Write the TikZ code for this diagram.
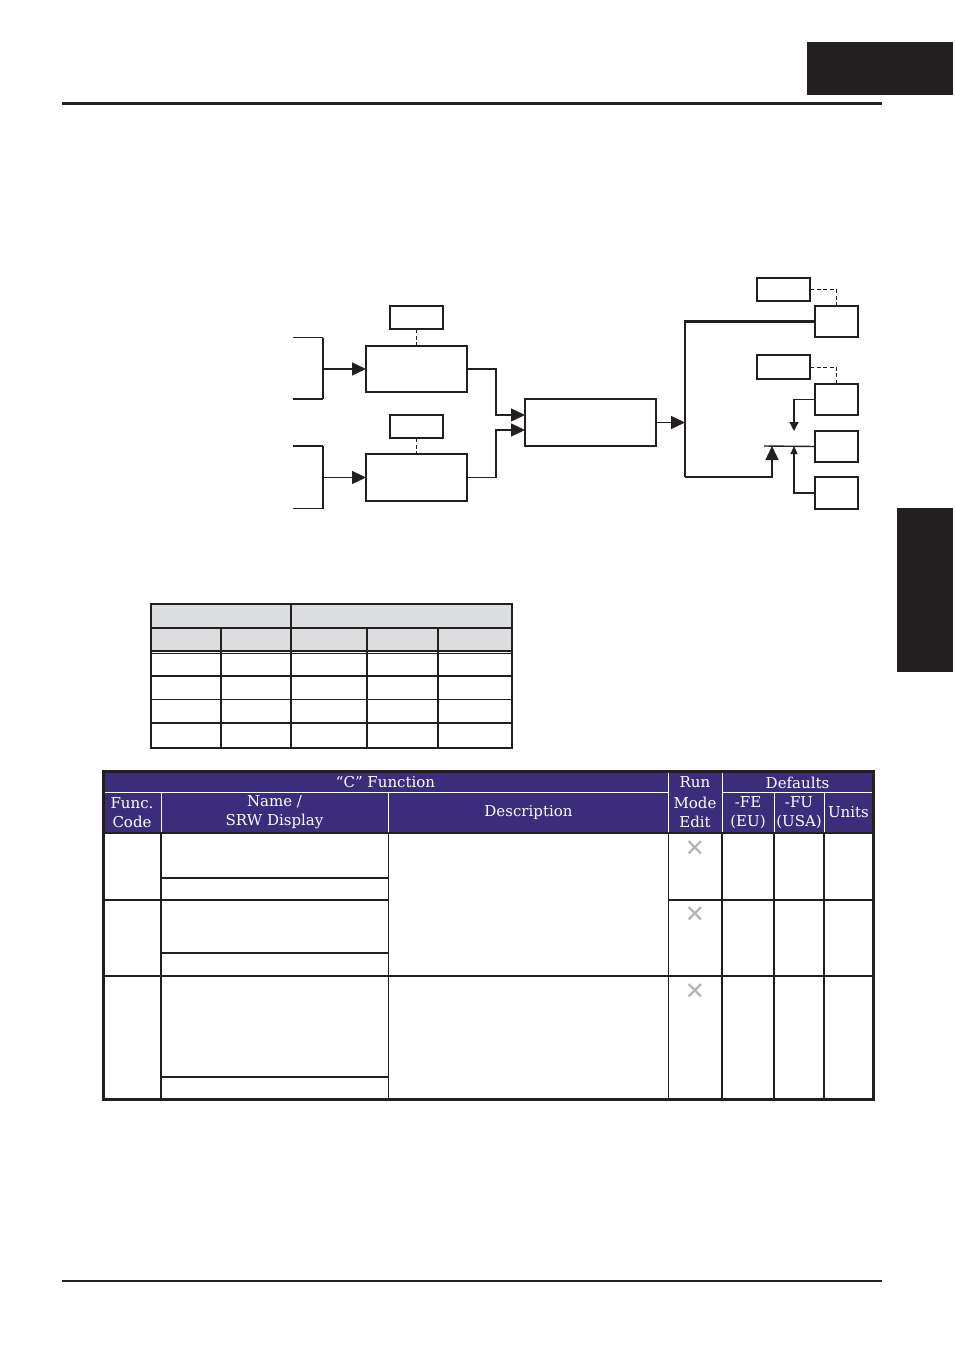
\documentclass[tikz,border=0pt]{standalone}
\usepackage{fontspec}
\newfontfamily\hdrfont{DejaVu Serif}
\newfontfamily\symfont{DejaVu Sans}
\usetikzlibrary{arrows.meta,calc}
\definecolor{hdrpurple}{RGB}{59,45,124}
\definecolor{tblgray}{RGB}{220,221,222}
\definecolor{ink}{RGB}{35,31,32}
\begin{document}
\begin{tikzpicture}[x=1pt,y=-1pt,
  box/.style={draw=ink, line width=1.4pt, inner sep=0pt, outer sep=0pt, fill=white},
  bigarrow/.style={draw=ink, line width=1.4pt, -{Triangle[length=14pt,width=13pt]}},
  smallarrow/.style={draw=ink, line width=1.2pt, -{Triangle[length=9pt,width=9pt]}},
  tinyarrow/.style={draw=ink, line width=1.2pt, -{Triangle[length=8pt,width=7pt]}},
  dashlink/.style={draw=ink, line width=1pt, dash pattern=on 4pt off 2.5pt},
  tline/.style={draw=ink, line width=1.4pt},
  hline/.style={draw=white, line width=0.9pt},
  hdr/.style={text=white, font=\hdrfont\fontsize{15}{19}\selectfont, align=center, inner sep=0pt},
  xmark/.style={text=gray!60, font=\symfont\fontsize{24}{24}\selectfont, inner sep=0pt}
]
\useasboundingbox (0,0) rectangle (954,1356);
% page decorations
\fill[ink] (807,42) rectangle (953,95);
\draw[ink, line width=3pt] (62,103.5) -- (882,103.5);
\fill[ink] (897,508) rectangle (953,672);
\draw[ink, line width=2pt] (62,1281) -- (882,1281);

% ---------- block diagram ----------
\node[box, minimum width=53pt, minimum height=23pt] (s1) at (416.5,317.5) {};
\node[box, minimum width=101pt, minimum height=46pt] (b1) at (416.5,369) {};
\node[box, minimum width=53pt, minimum height=23pt] (s2) at (416.5,426.5) {};
\node[box, minimum width=101pt, minimum height=47pt] (b2) at (416.5,477.5) {};
\draw[ink, line width=2.6pt] (b2.south west) -- (b2.south east);
\node[box, minimum width=131pt, minimum height=47pt] (c) at (590.5,422.5) {};
\draw[ink, line width=2.2pt] (c.north east) -- (c.south east);

\node[box, minimum width=53pt, minimum height=23pt] (ra) at (783.5,289.5) {};
\node[box, minimum width=43pt, minimum height=31pt] (r1) at (836.5,321.5) {};
\node[box, minimum width=53pt, minimum height=24pt] (rb) at (783.5,367) {};
\node[box, minimum width=43pt, minimum height=31pt] (r2) at (836.5,399.5) {};
\node[box, minimum width=43pt, minimum height=31pt] (r3) at (836.5,446.5) {};
\draw[ink, line width=2.6pt] (r3.north west) -- (r3.north east) (r3.south west) -- (r3.south east);
\node[box, minimum width=43pt, minimum height=32pt] (r4) at (836.5,493) {};

% brackets
\coordinate (k1a) at (293,337.7); \coordinate (k1b) at (323,337.7);
\coordinate (k1c) at (323,399); \coordinate (k1d) at (293,399);
\coordinate (k1m) at (323,369);
\draw[tline] (k1a) -- (k1b) (k1c) -- (k1d);
\draw[ink, line width=2.4pt] (k1b) -- (k1c);
\coordinate (k2a) at (293,446); \coordinate (k2b) at (323,446);
\coordinate (k2c) at (323,508.7); \coordinate (k2d) at (293,508.7);
\coordinate (k2m) at (323,477.5);
\draw[tline] (k2a) -- (k2b) (k2c) -- (k2d);
\draw[ink, line width=2.4pt] (k2b) -- (k2c);
\draw[bigarrow] (k1m) -- (b1.west);
\draw[bigarrow] (k2m) -- (b2.west);

% dashed links
\draw[dashlink] (s1.south) -- (b1.north);
\draw[dashlink] (s2.south) -- (b2.north);
\draw[dashlink] (ra.east) -| (r1.north);
\draw[dashlink] (rb.east) -| (r2.north);

% into central block
\draw[bigarrow] (b1.east) -- ++(29,0) |- ($(c.west)+(0,-7.5)$);
\draw[bigarrow] (b2.east) -- ++(29,0) |- ($(c.west)+(0,7.5)$);

% right side
\coordinate (vt) at (685,321.5);
\coordinate (vb) at (685,477);
\coordinate (tipa) at (772,446);
\coordinate (tipb) at (794,431);
\coordinate (tipc) at (794,446);
\coordinate (hl) at (764,446);
\draw[bigarrow] (c.east) -- (c.east -| vt);
\draw[ink, line width=2.8pt, line join=miter] (r1.west) -- (vt) -- (vb);
\draw[bigarrow] (vb) -| (tipa);
\draw[tline] (hl) -- (r3.west);
\draw[smallarrow] (r2.west) -| (tipb);
\draw[tinyarrow] (r4.west) -| (tipc);

% ---------- small table ----------
\fill[tblgray] (151,604) rectangle (512,651);
\draw[tline] (151,628) -- (512,628);
\draw[tline] (151,651) -- (512,651);
\draw[tline] (151,653.5) -- (512,653.5);
\draw[tline] (151,676) -- (512,676);
\draw[tline] (151,699.5) -- (512,699.5);
\draw[tline] (151,723) -- (512,723);
\draw[tline] (291,604) -- (291,748);
\draw[tline] (221,628) -- (221,748);
\draw[tline] (367,628) -- (367,748);
\draw[tline] (438,628) -- (438,748);
\draw[ink, line width=2.8pt] (151,604) rectangle (512,748);

% ---------- parameter table ----------
\fill[hdrpurple] (103,771) rectangle (873,833);
% header inner lines (light)
\draw[hline] (103,792) -- (668.5,792) (722,792) -- (873,792);
\draw[hline] (668.5,771) -- (668.5,833) (722,771) -- (722,833);
\draw[hline] (161,792) -- (161,833) (388.5,792) -- (388.5,833);
\draw[hline] (774,792) -- (774,833) (824,792) -- (824,833);
% body lines
\draw[tline] (103,833) -- (873,833);
\foreach \xx in {161,388.5,668.5,722,774,824} {\draw[tline] (\xx,833) -- (\xx,1099);}
\draw[tline] (103,900) -- (388.5,900) (668.5,900) -- (873,900);
\draw[tline] (103,976) -- (873,976);
\draw[tline] (161,878) -- (388.5,878);
\draw[tline] (161,953) -- (388.5,953);
\draw[tline] (161,1077) -- (388.5,1077);
\draw[ink, line width=3pt] (103,771) rectangle (873,1099);

% header texts
\node[hdr] (hc) at (385.5,782.5) {“C” Function};
\node[hdr] (hrun) at (695,782.5) {Run};
\node[hdr] (hdef) at (797.5,782.5) {Defaults};
\node[hdr] (hfc) at (132,812.5) {Func.\\Code};
\node[hdr] (hname) at (274.5,812.5) {Name /\\SRW Display};
\node[hdr] (hdesc) at (528.5,812.5) {Description};
\node[hdr] (hme) at (695,812.5) {Mode\\Edit};
\node[hdr] (hfe) at (748,812.5) {-FE\\(EU)};
\node[hdr] (hfu) at (799,812.5) {-FU\\(USA)};
\node[hdr] (hun) at (848.5,812.5) {Units};

% run-mode marks
\node[xmark] (x1) at (695,849) {✕};
\node[xmark] (x2) at (695,915) {✕};
\node[xmark] (x3) at (695,991.5) {✕};
\end{tikzpicture}
\end{document}
